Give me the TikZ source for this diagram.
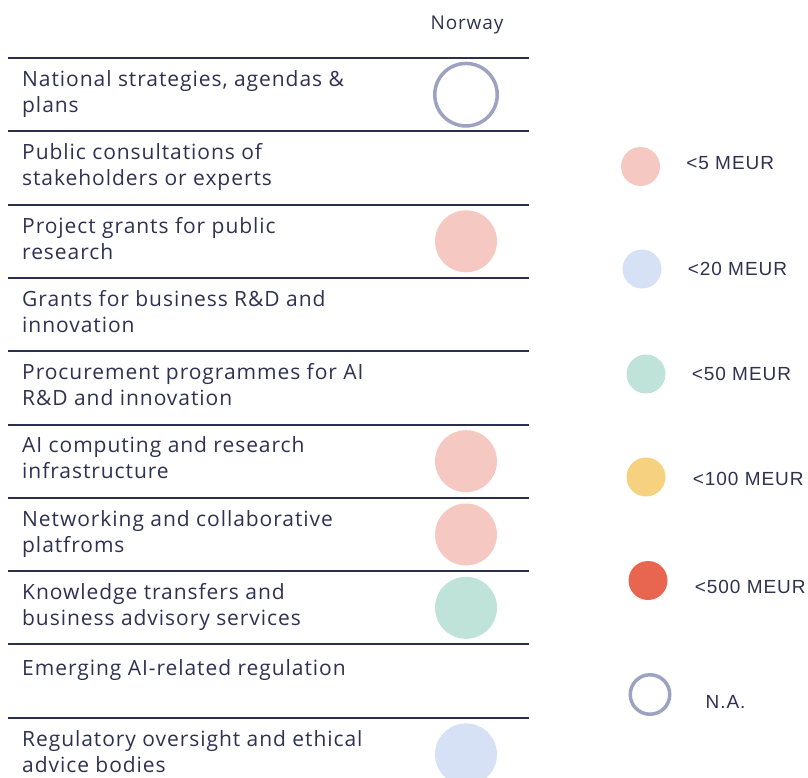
\documentclass[tikz,border=0pt]{standalone}
\usepackage{fontspec}
\setmainfont[LetterSpace=4.5]{Open Sans}
\newfontfamily\legendfont[LetterSpace=5]{Liberation Sans}
\usetikzlibrary{positioning}

\definecolor{navytext}{HTML}{2E3151}
\definecolor{rulecolor}{HTML}{2B2E4C}
\definecolor{pinkfill}{HTML}{F5C9C2}
\definecolor{bluefill}{HTML}{D7E1F5}
\definecolor{tealfill}{HTML}{BFE3D9}
\definecolor{yellowfill}{HTML}{F6D280}
\definecolor{redfill}{HTML}{E8664F}
\definecolor{openline}{HTML}{9DA2C0}

\begin{document}
\begin{tikzpicture}
	[x=1pt, y=-1pt,
		rowtext/.style={anchor=north west, align=left, inner sep=0pt, text=navytext, font=\fontsize{21}{26}\selectfont, execute at begin node=\strut},
		headtext/.style={anchor=base, inner sep=0pt, text=navytext, font=\fontsize{19}{22}\selectfont},
		rowline/.style={draw=rulecolor, line width=2pt},
		bigdot/.style={circle, minimum size=62pt, inner sep=0pt},
		bigring/.style={circle, draw=openline, line width=3.5pt, minimum size=62.5pt, inner sep=0pt},
		legenddot/.style={circle, minimum size=39pt, inner sep=0pt},
		legendring/.style={circle, draw=openline, line width=3.5pt, minimum size=39.5pt, inner sep=0pt},
		legendtext/.style={inner sep=0pt, text=navytext, font=\legendfont\fontsize{19}{22}\selectfont},
	]

	\useasboundingbox (0,0) rectangle (808,778);

	\node[headtext] (norway) at (467,30) {Norway};

	% table rules
	\draw[rowline] (8,58) -- (529,58);
	\draw[rowline] (8,131.3) -- (529,131.3);
	\draw[rowline] (8,204.6) -- (529,204.6);
	\draw[rowline] (8,277.9) -- (529,277.9);
	\draw[rowline] (8,351.2) -- (529,351.2);
	\draw[rowline] (8,424.5) -- (529,424.5);
	\draw[rowline] (8,497.8) -- (529,497.8);
	\draw[rowline] (8,571.1) -- (529,571.1);
	\draw[rowline] (8,644.4) -- (529,644.4);
	\draw[rowline] (8,717.7) -- (529,717.7);

	% row labels
	\node[rowtext] (strategies) at (22,70.3) {National strategies, agendas \&\\plans};
	\node[rowtext] (consultations) at (22,143.6) {Public consultations of\\stakeholders or experts};
	\node[rowtext] (projectgrants) at (22,216.9) {Project grants for public\\research};
	\node[rowtext] (businessgrants) at (22,290.2) {Grants for business R\&D and\\innovation};
	\node[rowtext] (procurement) at (22,363.5) {Procurement programmes for AI\\R\&D and innovation};
	\node[rowtext] (computing) at (22,436.8) {AI computing and research\\infrastructure};
	\node[rowtext] (networking) at (22,510.1) {Networking and collaborative\\platfroms};
	\node[rowtext] (knowledge) at (22,583.4) {Knowledge transfers and\\business advisory services};
	\node[rowtext] (regulation) at (22,656.7) {Emerging AI-related regulation};
	\node[rowtext] (oversight) at (22,730) {Regulatory oversight and ethical\\advice bodies};

	% Norway values
	\node[bigring] (nstrategies) at (466,94.7) {};
	\node[bigdot, fill=pinkfill] (nprojectgrants) at (466,241.3) {};
	\node[bigdot, fill=pinkfill] (ncomputing) at (466,461.2) {};
	\node[bigdot, fill=pinkfill] (nnetworking) at (466,534.5) {};
	\node[bigdot, fill=tealfill] (nknowledge) at (466,607.8) {};
	\node[bigdot, fill=bluefill] (noversight) at (466,754.4) {};

	% legend
	\node[legenddot, fill=pinkfill] (lfive) at (640.5,166.5) {};
	\node[legenddot, fill=bluefill] (ltwenty) at (642,269) {};
	\node[legenddot, fill=tealfill] (lfifty) at (646,374) {};
	\node[legenddot, fill=yellowfill] (lhundred) at (646,477) {};
	\node[legenddot, fill=redfill] (lfivehundred) at (648,580.5) {};
	\node[legendring] (lna) at (650,694.5) {};

	\node[legendtext, yshift=3.5pt] (tfive) [right=26pt of lfive] {<5 MEUR};
	\node[legendtext] (ttwenty) [right=26pt of ltwenty] {<20 MEUR};
	\node[legendtext] (tfifty) [right=26pt of lfifty] {<50 MEUR};
	\node[legendtext, yshift=-2pt] (thundred) [right=27pt of lhundred] {<100 MEUR};
	\node[legendtext, yshift=-6.5pt] (tfivehundred) [right=27pt of lfivehundred] {<500 MEUR};
	\node[legendtext, yshift=-7.5pt] (tna) [right=34pt of lna] {N.A.};

\end{tikzpicture}
\end{document}
